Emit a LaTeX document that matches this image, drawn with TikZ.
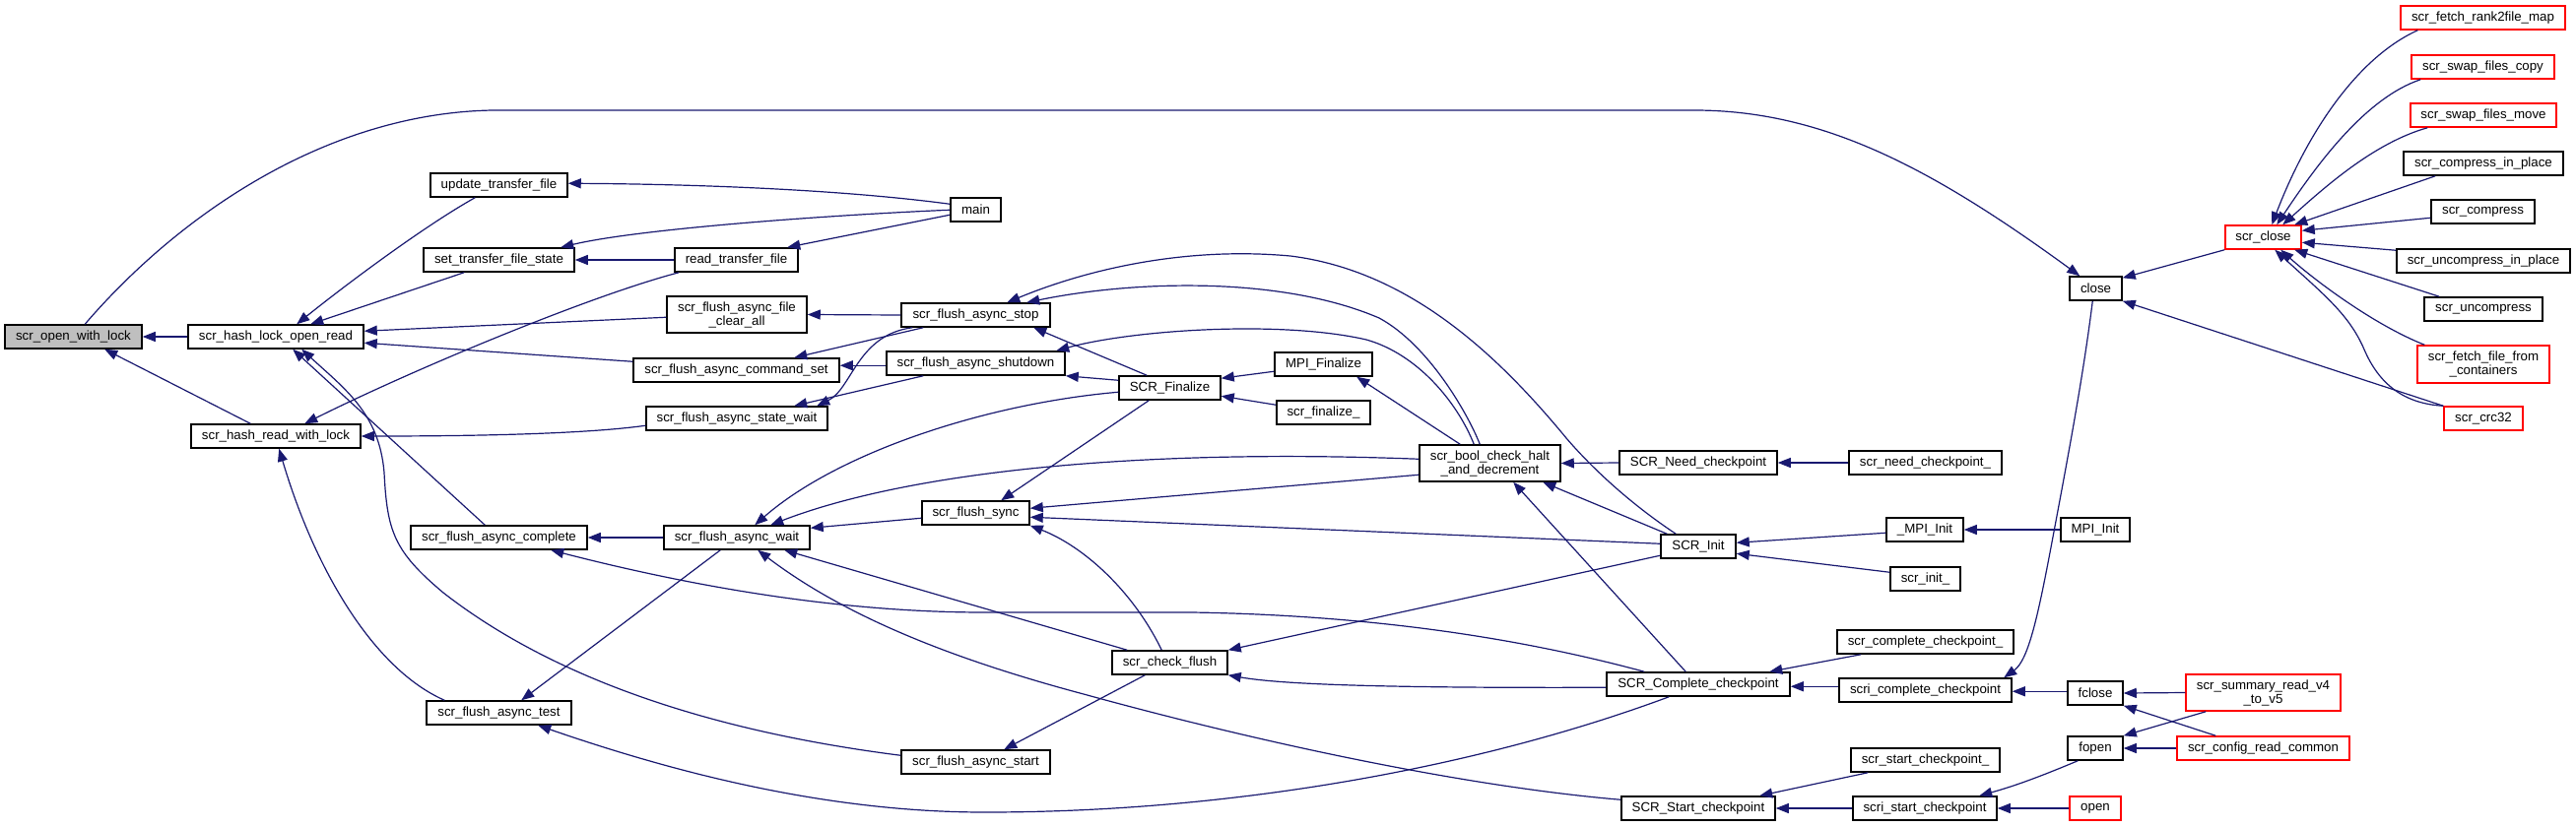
\documentclass[tikz,border=0pt]{standalone}
\usepackage{fontspec}
\setmainfont{Liberation Sans}
\usetikzlibrary{arrows.meta}
\definecolor{edgec}{HTML}{191970}
\definecolor{redc}{HTML}{FF0000}
\definecolor{grayc}{HTML}{BFBFBF}
\newcommand\bx[7]{\node[#1,minimum width={#5pt-#3pt},minimum height={#6pt-#4pt}] (#2) at ({(#3+#5)/2},{(#4+#6)/2}) {#7};}
\begin{document}
\begin{tikzpicture}[x=1pt,y=-1pt,
  box/.style={draw=black,line width=1.5pt,fill=white,inner sep=0pt,align=center,font=\fontsize{13.3}{14}\selectfont},
  rbox/.style={box,draw=redc},
  gbox/.style={box,fill=grayc},
  edge/.style={draw=edgec,line width=1.2pt,{Triangle[length=13pt,width=10pt]}-}]
\fill[white] (0,0) rectangle (2615,839);
\useasboundingbox (0,0) rectangle (2615,839);
% nodes
\bx{gbox}{fw}{5}{330}{144}{354}{scr\_open\_with\_lock}
\bx{box}{hlor}{191}{330}{369}{354}{scr\_hash\_lock\_open\_read}
\bx{box}{hrwl}{194}{431}{366}{455}{scr\_hash\_read\_with\_lock}
\bx{box}{utf}{437}{176}{576}{200}{update\_transfer\_file}
\bx{box}{stfs}{430}{252}{583}{276}{set\_transfer\_file\_state}
\bx{box}{rtf}{685}{252}{810}{276}{read\_transfer\_file}
\bx{box}{fcl}{677}{301}{819}{338}{scr\_flush\_async\_file\\\_clear\_all}
\bx{box}{fcs}{643}{364}{852}{388}{scr\_flush\_async\_command\_set}
\bx{box}{fsw}{656}{413}{840}{437}{scr\_flush\_async\_state\_wait}
\bx{box}{fcomp}{417}{534}{596}{558}{scr\_flush\_async\_complete}
\bx{box}{fwait}{674}{534}{822}{558}{scr\_flush\_async\_wait}
\bx{box}{ftest}{433}{712}{580}{736}{scr\_flush\_async\_test}
\bx{box}{main}{965}{201}{1016}{225}{main}
\bx{box}{fstop}{915}{308}{1066}{332}{scr\_flush\_async\_stop}
\bx{box}{fshut}{900}{357}{1081}{381}{scr\_flush\_async\_shutdown}
\bx{box}{fin}{1136}{382}{1239}{406}{SCR\_Finalize}
\bx{box}{fsync}{936}{509}{1045}{533}{scr\_flush\_sync}
\bx{box}{chk}{1129}{661}{1246}{685}{scr\_check\_flush}
\bx{box}{fstart}{915}{762}{1066}{786}{scr\_flush\_async\_start}
\bx{box}{mpif}{1294}{358}{1393}{382}{MPI\_Finalize}
\bx{box}{finu}{1296}{407}{1391}{431}{scr\_finalize\_}
\bx{box}{bool}{1441}{452}{1584}{489}{scr\_bool\_check\_halt\\\_and\_decrement}
\bx{box}{need}{1644}{458}{1804}{482}{SCR\_Need\_checkpoint}
\bx{box}{init}{1686}{543}{1762}{567}{SCR\_Init}
\bx{box}{comp}{1631}{683}{1817}{707}{SCR\_Complete\_checkpoint}
\bx{box}{start}{1646}{809}{1802}{833}{SCR\_Start\_checkpoint}
\bx{box}{needu}{1877}{458}{2032}{482}{scr\_need\_checkpoint\_}
\bx{box}{mpiiu}{1915}{526}{1993}{550}{\_MPI\_Init}
\bx{box}{mpii}{2092}{526}{2162}{550}{MPI\_Init}
\bx{box}{initu}{1919}{576}{1990}{600}{scr\_init\_}
\bx{box}{compu}{1865}{640}{2044}{664}{scr\_complete\_checkpoint\_}
\bx{box}{scomp}{1867}{689}{2042}{713}{scri\_complete\_checkpoint}
\bx{box}{fclose}{2099}{692}{2155}{716}{fclose}
\bx{box}{fopen}{2099}{748}{2155}{772}{fopen}
\bx{box}{startu}{1879}{760}{2030}{784}{scr\_start\_checkpoint\_}
\bx{box}{sstart}{1881}{809}{2027}{833}{scri\_start\_checkpoint}
\bx{rbox}{open}{2101}{809}{2153}{833}{open}
\bx{box}{close}{2101}{281}{2154}{305}{close}
\bx{rbox}{r2f}{2437}{6}{2604}{30}{scr\_fetch\_rank2file\_map}
\bx{rbox}{swc}{2448}{56}{2593}{80}{scr\_swap\_files\_copy}
\bx{rbox}{swm}{2447}{105}{2595}{129}{scr\_swap\_files\_move}
\bx{box}{cip}{2440}{154}{2602}{178}{scr\_compress\_in\_place}
\bx{box}{cmp}{2468}{203}{2573}{227}{scr\_compress}
\bx{box}{ucip}{2433}{253}{2609}{277}{scr\_uncompress\_in\_place}
\bx{box}{ucmp}{2461}{302}{2581}{326}{scr\_uncompress}
\bx{rbox}{ffc}{2454}{351}{2588}{389}{scr\_fetch\_file\_from\\\_containers}
\bx{rbox}{sclose}{2259}{229}{2336}{253}{scr\_close}
\bx{rbox}{crc}{2481}{413}{2561}{437}{scr\_crc32}
\bx{rbox}{sum}{2219}{685}{2376}{722}{scr\_summary\_read\_v4\\\_to\_v5}
\bx{rbox}{cfg}{2210}{748}{2385}{772}{scr\_config\_read\_common}
% edges (arrow tip at the first point)
\draw[edge] (fw.east) -- (hlor.west);
\draw[edge] ([xshift=102pt]fw.south west) -- ([xshift=61pt]hrwl.north west);
\draw[edge] ([xshift=11pt]close.north west) .. controls (1960,170) and (1850,112) .. (1720,112) -- (500,112) .. controls (330,115) and (180,220) .. ([xshift=82pt]fw.north west);
\draw[edge] ([xshift=111pt]hlor.north west) .. controls (350,290) and (430,230) .. ([xshift=46pt]utf.south west);
\draw[edge] ([xshift=125pt]hlor.north west) -- ([xshift=42pt]stfs.south west);
\draw[edge] ([yshift=-7pt]hlor.north east) -- ([yshift=-22pt]fcl.north west);
\draw[edge] ([yshift=-19pt]hlor.north east) -- ([yshift=-4pt]fcs.north west);
\draw[edge] ([xshift=107pt]hlor.south west) -- ([xshift=76pt]fcomp.north west);
\draw[edge] ([xshift=116pt]hlor.south west) .. controls (350,395) and (385,420) .. (390,480) .. controls (393,540) and (400,560) .. (450,602) .. controls (550,680) and (700,740) .. ([yshift=-6pt]fstart.north west);
\draw[edge] ([xshift=116pt]hrwl.north west) .. controls (420,375) and (600,300) .. ([xshift=5pt]rtf.south west);
\draw[edge] (hrwl.east) .. controls (500,443) and (600,440) .. ([yshift=-20pt]fsw.north west);
\draw[edge] ([xshift=90pt]hrwl.south west) .. controls (320,580) and (380,680) .. ([xshift=19pt]ftest.north west);
\draw[edge] ([yshift=-11pt]utf.north east) .. controls (700,187) and (850,192) .. ([yshift=-7pt]main.north west);
\draw[edge] ([xshift=140pt]stfs.north west) .. controls (650,232) and (850,218) .. ([yshift=-13pt]main.north west);
\draw[edge] ([xshift=115pt]rtf.north west) -- ([yshift=-18pt]main.north west);
\draw[edge] (stfs.east) -- (rtf.west);
\draw[edge] (fcl.east) -- (fstop.west);
\draw[edge] ([yshift=-8pt]fcs.north east) -- ([yshift=-15pt]fshut.north west);
\draw[edge] ([xshift=164pt]fcs.north west) -- ([xshift=23pt]fstop.south west);
\draw[edge] ([xshift=174pt]fsw.north west) .. controls (865,395) and (870,340) .. ([xshift=12pt]fstop.south west);
\draw[edge] ([xshift=151pt]fsw.north west) -- ([xshift=38pt]fshut.south west);
\draw[edge] ([xshift=108pt]fstop.north west) .. controls (1100,275) and (1200,250) .. (1310,260) .. controls (1430,275) and (1520,360) .. (1590,445) .. controls (1620,480) and (1660,515) .. ([xshift=16pt]init.north west);
\draw[edge] ([xshift=128pt]fstop.north west) .. controls (1150,285) and (1300,280) .. (1400,323) .. controls (1450,350) and (1490,420) .. ([xshift=62pt]bool.north west);
\draw[edge] ([xshift=135pt]fstop.south west) -- ([xshift=29pt]fin.north west);
\draw[edge] ([xshift=173pt]fshut.north west) .. controls (1150,335) and (1300,325) .. (1387,345) .. controls (1440,360) and (1480,410) .. ([xshift=56pt]bool.north west);
\draw[edge] (fshut.south east) -- ([yshift=-5pt]fin.north west);
\draw[edge] ([yshift=-3pt]fin.north east) -- ([yshift=-20pt]mpif.north west);
\draw[edge] ([yshift=-21pt]fin.north east) -- ([yshift=-5pt]finu.north west);
\draw[edge] ([xshift=84pt]mpif.south west) -- ([xshift=42pt]bool.north west);
\draw[edge] ([xshift=93pt]fwait.north west) .. controls (850,460) and (1000,410) .. ([yshift=-17pt]fin.north west);
\draw[edge] ([xshift=109pt]fwait.north west) .. controls (920,480) and (1150,455) .. ([yshift=-15pt]bool.north west);
\draw[edge] ([yshift=-3pt]fwait.north east) -- ([yshift=-18pt]fsync.north west);
\draw[edge] ([xshift=123pt]fwait.south west) -- ([xshift=16pt]chk.north west);
\draw[edge] ([xshift=96pt]fwait.south west) .. controls (850,620) and (950,665) .. (1100,705) .. controls (1300,760) and (1500,800) .. ([yshift=-4pt]start.north west);
\draw[edge] (fcomp.east) -- (fwait.west);
\draw[edge] ([xshift=143pt]fcomp.south west) .. controls (700,595) and (850,622) .. (1000,622) -- (1210,622) .. controls (1400,625) and (1550,650) .. ([xshift=39pt]comp.north west);
\draw[edge] ([xshift=97pt]ftest.north west) -- ([xshift=58pt]fwait.south west);
\draw[edge] ([xshift=114pt]ftest.south west) .. controls (700,790) and (850,825) .. (1000,825) .. controls (1250,825) and (1500,780) .. ([xshift=64pt]comp.south west);
\draw[edge] ([xshift=81pt]fsync.north west) -- ([xshift=31pt]fin.south west);
\draw[edge] ([yshift=-8pt]fsync.north east) -- ([yshift=-31pt]bool.north west);
\draw[edge] ([yshift=-17pt]fsync.north east) -- ([yshift=-10pt]init.north west);
\draw[edge] (fsync.south east) .. controls (1100,555) and (1150,600) .. ([xshift=51pt]chk.north west);
\draw[edge] ([xshift=105pt]fstart.north west) -- ([xshift=34pt]chk.south west);
\draw[edge] (chk.north east) -- ([yshift=-22pt]init.north west);
\draw[edge] (chk.south east) .. controls (1300,695) and (1400,699) .. ([yshift=-16pt]comp.north west);
\draw[edge] (bool.east) -- (need.west);
\draw[edge] ([xshift=96pt]bool.south west) -- ([xshift=81pt]comp.north west);
\draw[edge] ([xshift=126pt]bool.south west) -- ([xshift=7pt]init.north west);
\draw[edge] (need.east) -- (needu.west);
\draw[edge] ([yshift=-9pt]init.north east) -- ([yshift=-16pt]mpiiu.north west);
\draw[edge] ([yshift=-20pt]init.north east) -- ([yshift=-6pt]initu.north west);
\draw[edge] (mpiiu.east) -- (mpii.west);
\draw[edge] ([xshift=166pt]comp.north west) -- ([xshift=25pt]compu.south west);
\draw[edge] ([yshift=-15pt]comp.north east) -- ([yshift=-9pt]scomp.north west);
\draw[edge] ([xshift=168pt]scomp.north west) .. controls (2060,670) and (2070,620) .. (2085,540) .. controls (2100,460) and (2115,380) .. ([xshift=24pt]close.south west);
\draw[edge] ([yshift=-14pt]scomp.north east) -- ([yshift=-11pt]fclose.north west);
\draw[edge] (fclose.east) -- (sum.west);
\draw[edge] (fclose.south east) -- ([xshift=40pt]cfg.north west);
\draw[edge] (fopen.north east) -- ([xshift=21pt]sum.south west);
\draw[edge] (fopen.east) -- (cfg.west);
\draw[edge] ([xshift=129pt]sstart.north west) .. controls (2050,797) and (2080,785) .. ([xshift=11pt]fopen.south west);
\draw[edge] (sstart.east) -- (open.west);
\draw[edge] ([xshift=141pt]start.north west) -- ([xshift=18pt]startu.south west);
\draw[edge] (start.east) -- (sstart.west);
\draw[edge] ([yshift=-2pt]close.north east) -- (sclose.south west);
\draw[edge] (close.south east) -- (crc.north west);
\draw[edge] ([xshift=48pt]sclose.north west) .. controls (2340,140) and (2390,60) .. ([xshift=18pt]r2f.south west);
\draw[edge] ([xshift=53pt]sclose.north west) .. controls (2350,170) and (2400,100) .. ([xshift=10pt]swc.south west);
\draw[edge] ([xshift=59pt]sclose.north west) .. controls (2360,190) and (2410,145) .. ([xshift=18pt]swm.south west);
\draw[edge] ([xshift=71pt]sclose.north west) -- ([xshift=33pt]cip.south west);
\draw[edge] ([yshift=-6pt]sclose.north east) -- ([yshift=-19pt]cmp.north west);
\draw[edge] ([yshift=-18pt]sclose.north east) -- ([yshift=-2pt]ucip.north west);
\draw[edge] ([xshift=71pt]sclose.south west) -- ([xshift=16pt]ucmp.north west);
\draw[edge] ([xshift=57pt]sclose.south west) .. controls (2350,285) and (2410,330) .. ([xshift=8pt]ffc.north west);
\draw[edge] ([xshift=51pt]sclose.south west) .. controls (2360,300) and (2385,320) .. (2400,355) .. controls (2415,390) and (2440,410) .. (crc.north west);
\end{tikzpicture}
\end{document}
